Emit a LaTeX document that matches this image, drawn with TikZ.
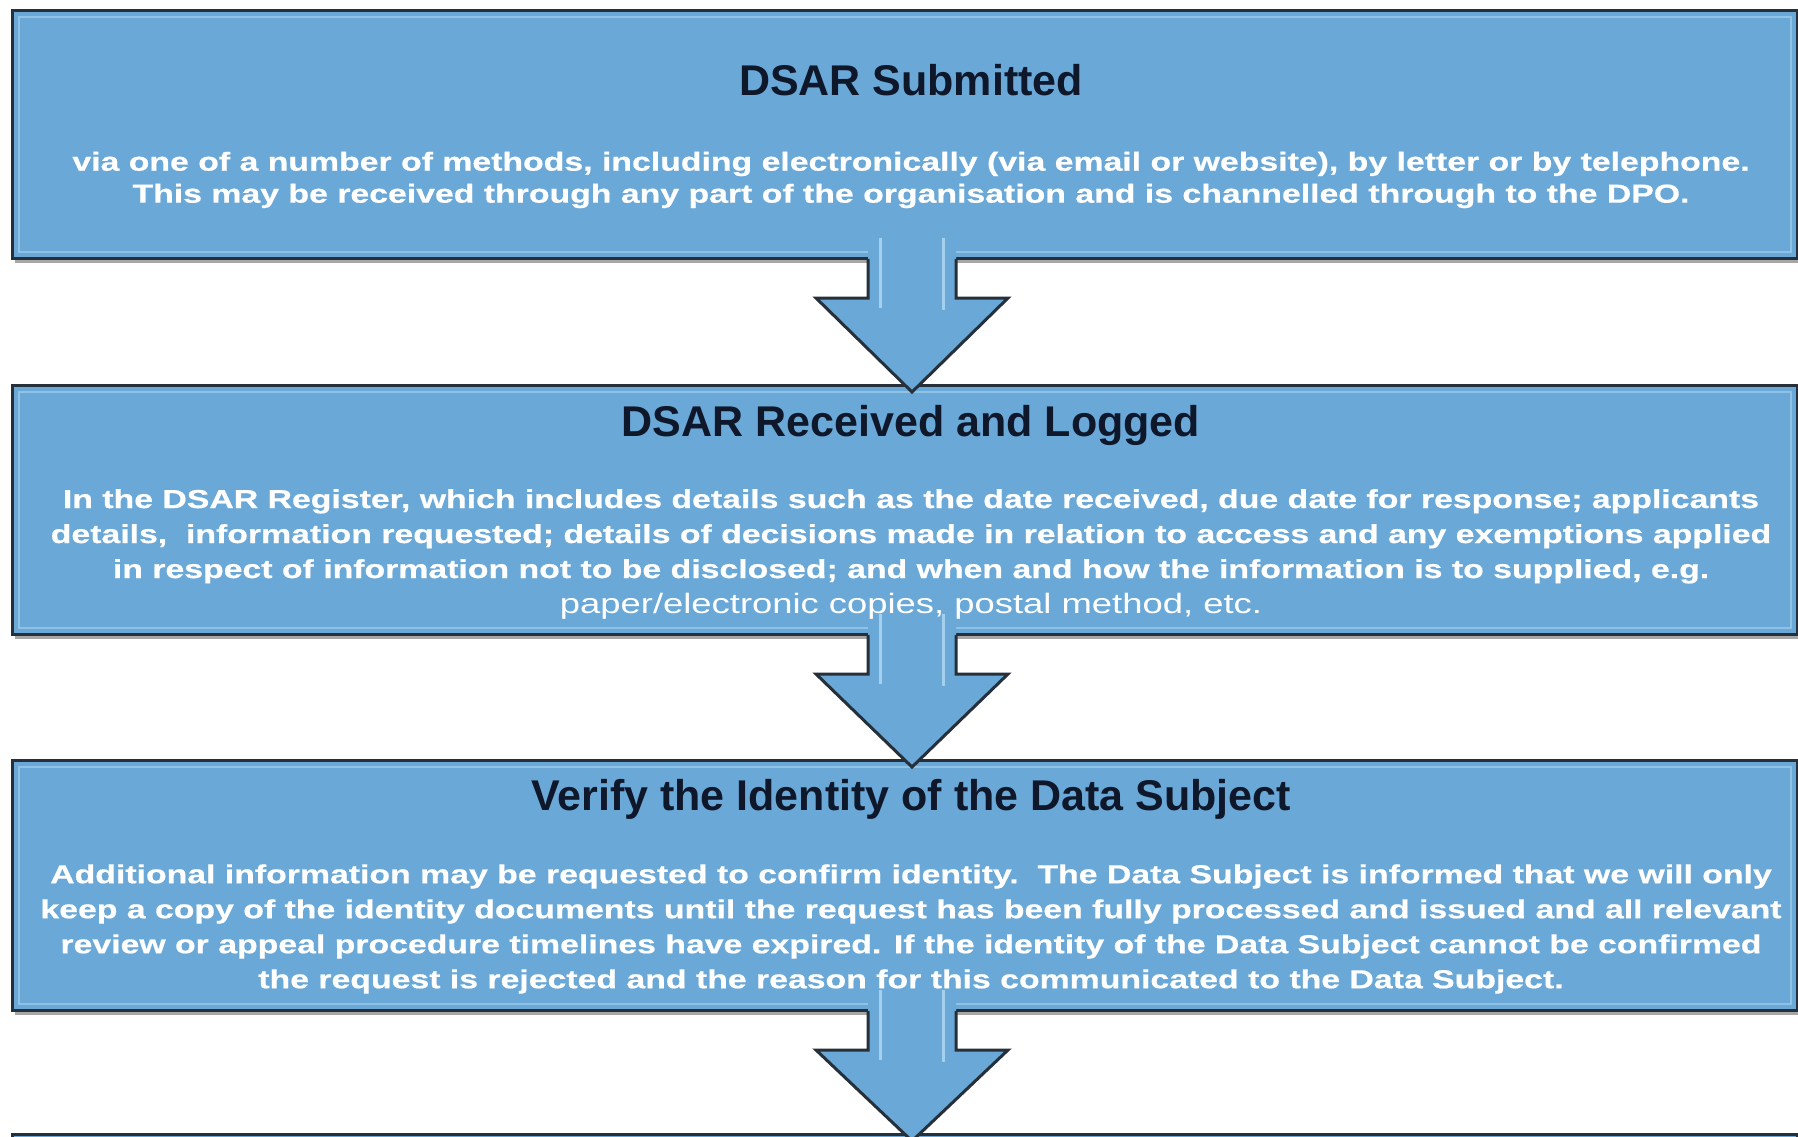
\documentclass[tikz,border=0pt]{standalone}
\usepackage{fontspec}
\setmainfont{Liberation Sans}
\newfontfamily\bodyfont{Liberation Sans}[FakeStretch=1.3, BoldFeatures={FakeBold=0.6}]
\usetikzlibrary{calc,shadows}
\definecolor{boxfill}{RGB}{106,168,215}
\definecolor{boxline}{RGB}{38,48,58}
\definecolor{titlecol}{RGB}{14,24,42}
\definecolor{hilite}{RGB}{176,216,242}
\begin{document}
\begin{tikzpicture}[x=1pt,y=-1pt,
  box/.style={draw=boxline, line width=3pt, fill=boxfill, minimum width=1785pt,
    minimum height=248pt, inner sep=0pt, anchor=north west,
    drop shadow={shadow xshift=2pt, shadow yshift=-4pt, opacity=0.35, fill=black}},
  title/.style={text=titlecol, font=\fontsize{43}{48}\selectfont\bfseries, anchor=base, inner sep=0pt},
  body/.style={text=white, font=\bodyfont\fontsize{26}{35}\selectfont\bfseries, align=center, inner sep=0pt},
  arrowline/.style={draw=boxline, line width=3pt, line join=miter},
  shaftlight/.style={draw=hilite, line width=3pt, opacity=0.85},
]
\useasboundingbox (0,0) rectangle (1798,1136);
\clip (0,0) rectangle (1798,1136);
\fill[white] (0,0) rectangle (1798,1136);

\node[box] (b1) at (11,9) {};
\node[box, minimum height=249pt] (b2) at (11,384) {};
\node[box, minimum height=250pt] (b3) at (11,759) {};
\node[box, minimum height=250pt] (b4) at (11,1133) {};

\foreach \n in {b1,b2,b3}{
  \draw[hilite, line width=2pt, opacity=0.55]
    ($(\n.north west)+(8,8)$) rectangle ($(\n.south east)+(-8,-8)$);
}

\coordinate (ax) at (912,0);
\foreach \a/\b in {b1/b2,b2/b3,b3/b4}{
  \coordinate (c) at (ax |- \a.south);
  \coordinate (t) at (ax |- \b.north);
  \fill[boxfill] ($(c)+(-44,-40)$) -- ($(c)+(-44,38)$) -- ($(c)+(-96,38)$)
     -- ($(t)+(0,8)$) -- ($(c)+(96,38)$) -- ($(c)+(44,38)$) -- ($(c)+(44,-40)$) -- cycle;
  \draw[shaftlight] ($(c)+(-32,-22)$) -- ($(c)+(-32,48)$);
  \draw[shaftlight] ($(c)+(31,-22)$) -- ($(c)+(31,50)$);
  \draw[arrowline] ($(c)+(-44,-1)$) -- ($(c)+(-44,38)$) -- ($(c)+(-96,38)$)
     -- ($(t)+(0,8)$) -- ($(c)+(96,38)$) -- ($(c)+(44,38)$) -- ($(c)+(44,-1)$);
}

\node[title] (t1) at (911,95) {DSAR Submitted};
\node[body, font=\bodyfont\fontsize{26}{32}\selectfont\bfseries] (d1) at (911,180) {via one of a number of methods, including electronically (via email or website), by letter or by telephone.\\This may be received through any part of the organisation and is channelled through to the DPO.};

\node[title] (t2) at (911,436) {DSAR Received and Logged};
\node[body] (d2) at (911,554) {In the DSAR Register, which includes details such as the date received, due date for response; applicants\\details,\ \ information requested; details of decisions made in relation to access and any exemptions applied\\in respect of information not to be disclosed; and when and how the information is to supplied, e.g.\\{\mdseries\fontsize{28}{35}\selectfont paper/electronic copies, postal method, etc.}};

\node[title] (t3) at (911,810) {Verify the Identity of the Data Subject};
\node[body] (d3) at (911,929) {Additional information may be requested to confirm identity.\ \ The Data Subject is informed that we will only\\keep a copy of the identity documents until the request has been fully processed and issued and all relevant\\review or appeal procedure timelines have expired. If the identity of the Data Subject cannot be confirmed\\the request is rejected and the reason for this communicated to the Data Subject.};
\end{tikzpicture}
\end{document}
